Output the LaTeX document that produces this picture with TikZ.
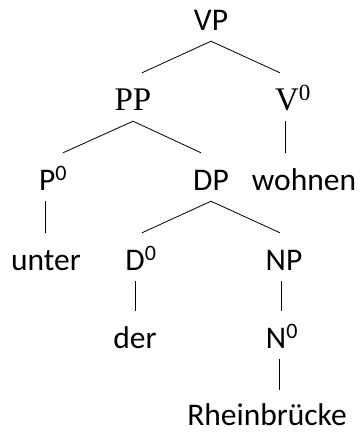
\documentclass[tikz,border=0pt]{standalone}
\usepackage{fontspec}
\setmainfont{Carlito}
\newfontfamily\romancat{Liberation Serif}
\usepackage{tikz}

\begin{document}
\begin{tikzpicture}[
    x=1pt, y=-1pt,
    cat/.style={anchor=base, inner sep=0pt, text height=37pt, text depth=11pt, font=\fontsize{31.5}{36}\selectfont},
    romancat/.style={cat, font=\fontsize{33}{38}\selectfont\romancat},
    branch/.style={black, line width=0.8pt}
]
\useasboundingbox (0,0) rectangle (360,434);

% Category and word nodes (baselines in the same units)
\node[cat] (vp) at (211, 30) {VP};
\node[romancat] (pp) at (133, 110) {PP};
\node[romancat] (v0) at (293, 110) {V\textsuperscript{0}};
\node[cat] (p0) at (53, 190) {P\textsuperscript{0}};
\node[cat] (dp) at (211, 190) {DP};
\node[cat] (wohnen) at (304, 190) {wohnen};
\node[cat] (unter) at (46, 270) {unter};
\node[cat] (d0) at (141, 270) {D\textsuperscript{0}};
\node[cat] (np) at (284, 270) {NP};
\node[cat] (der) at (135, 348) {der};
\node[cat] (n0) at (282, 348) {N\textsuperscript{0}};
\node[cat, text depth=0pt, text height=35pt] (rhein) at (267, 425) {Rheinbrücke};

% Branches
\draw[branch] (vp.south) -- ([xshift=9pt]pp.north);
\draw[branch] (vp.south) -- ([xshift=-13pt]v0.north);
\draw[branch] ([xshift=-8pt]v0.south) -- ([xshift=-19pt]wohnen.north);
\draw[branch] (pp.south) -- ([xshift=10pt]p0.north);
\draw[branch] (pp.south) -- ([xshift=-10pt]dp.north);
\draw[branch] ([xshift=-8pt]p0.south) -- ([xshift=-1pt]unter.north);
\draw[branch] (dp.south) -- ([xshift=1pt]d0.north);
\draw[branch] (dp.south) -- ([xshift=-4pt]np.north);
\draw[branch] ([xshift=-6pt]d0.south) -- (der.north);
\draw[branch] ([xshift=-3pt]np.south) -- ([xshift=-1pt]n0.north);
\draw[branch] ([xshift=-3pt]n0.south) -- ([xshift=12pt]rhein.north);

\end{tikzpicture}
\end{document}
